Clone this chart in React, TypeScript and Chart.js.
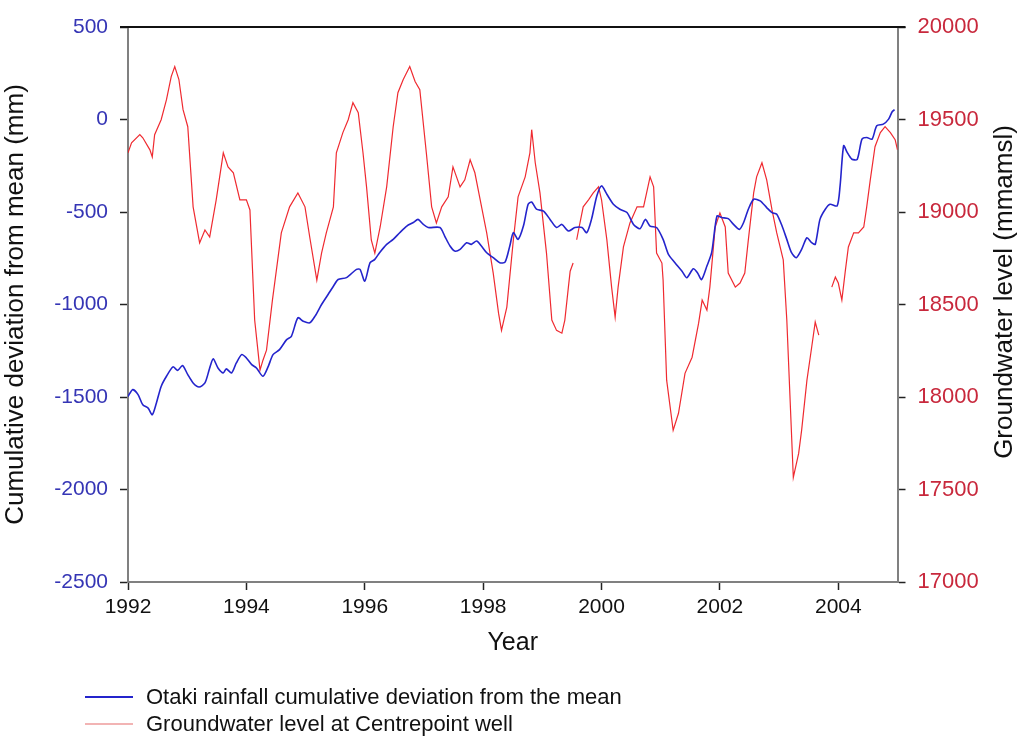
import React, { useEffect, useRef } from 'react';
import { Chart, registerables } from 'chart.js';

Chart.register(...registerables);

// ---- Data ----
const rainYears = [
  1992.00, 1992.08, 1992.17, 1992.25, 1992.34, 1992.41, 1992.48, 1992.56, 1992.65, 1992.76,
  1992.84, 1992.92, 1993.01, 1993.10, 1993.20, 1993.30, 1993.38, 1993.44, 1993.52, 1993.61,
  1993.66, 1993.75, 1993.83, 1993.92, 1994.00, 1994.09, 1994.17, 1994.28, 1994.37, 1994.45,
  1994.56, 1994.68, 1994.76, 1994.87, 1994.96, 1995.07, 1995.16, 1995.27, 1995.38, 1995.47,
  1995.55, 1995.69, 1995.86, 1995.92, 1996.00, 1996.09, 1996.17, 1996.25, 1996.37, 1996.48,
  1996.59, 1996.71, 1996.82, 1996.90, 1996.99, 1997.07, 1997.27, 1997.35, 1997.44, 1997.52,
  1997.61, 1997.72, 1997.80, 1997.89, 1997.97, 1998.06, 1998.17, 1998.28, 1998.37, 1998.45,
  1998.51, 1998.59, 1998.68, 1998.76, 1998.82, 1998.90, 1999.02, 1999.13, 1999.24, 1999.33,
  1999.44, 1999.55, 1999.67, 1999.75, 1999.83, 1999.92, 2000.00, 2000.09, 2000.20, 2000.31,
  2000.43, 2000.54, 2000.65, 2000.74, 2000.82, 2000.93, 2001.04, 2001.13, 2001.24, 2001.36,
  2001.44, 2001.55, 2001.62, 2001.69, 2001.78, 2001.86, 2001.95, 2002.03, 2002.14, 2002.23,
  2002.33, 2002.40, 2002.48, 2002.57, 2002.68, 2002.79, 2002.88, 2002.96, 2003.05, 2003.13,
  2003.21, 2003.29, 2003.38, 2003.47, 2003.55, 2003.61, 2003.69, 2003.78, 2003.86, 2003.98,
  2004.03, 2004.09, 2004.15, 2004.23, 2004.32, 2004.40, 2004.48, 2004.57, 2004.65, 2004.76,
  2004.85, 2004.91, 2004.95,
];

const rainDeviation = [
  -1497, -1460, -1487, -1542, -1560, -1596, -1532, -1443, -1388, -1337,
  -1356, -1330, -1379, -1424, -1446, -1424, -1343, -1294, -1343, -1370,
  -1348, -1370, -1316, -1271, -1289, -1325, -1343, -1388, -1334, -1271,
  -1244, -1190, -1172, -1072, -1090, -1099, -1063, -1000, -946, -901,
  -865, -855, -810, -810, -874, -774, -756, -720, -675, -648,
  -612, -576, -557, -540, -567, -584, -584, -630, -684, -711,
  -702, -666, -675, -657, -684, -720, -747, -774, -771, -684,
  -612, -648, -576, -458, -446, -485, -495, -540, -584, -567,
  -603, -584, -584, -612, -540, -413, -359, -404, -458, -485,
  -503, -567, -590, -540, -576, -584, -648, -729, -774, -820,
  -855, -807, -828, -865, -792, -720, -522, -530, -536, -567,
  -594, -557, -485, -431, -440, -476, -503, -512, -576, -648,
  -720, -747, -702, -639, -666, -675, -540, -485, -458, -467,
  -359, -142, -178, -215, -215, -106, -97, -106, -34, -25,
  2, 42, 53,
];

const gwYears = [
  1992.00, 1992.06, 1992.20, 1992.25, 1992.37, 1992.41, 1992.45, 1992.56, 1992.65, 1992.73,
  1992.79, 1992.86, 1992.93, 1993.01, 1993.10, 1993.21, 1993.30, 1993.38, 1993.49, 1993.61,
  1993.69, 1993.78, 1993.89, 1994.00, 1994.06, 1994.14, 1994.23, 1994.28, 1994.34, 1994.44,
  1994.59, 1994.73, 1994.87, 1994.99, 1995.07, 1995.19, 1995.27, 1995.35, 1995.47, 1995.52,
  1995.63, 1995.72, 1995.80, 1995.89, 1995.97, 1996.03, 1996.11, 1996.17, 1996.26, 1996.37,
  1996.48, 1996.56, 1996.65, 1996.76, 1996.85, 1996.93, 1997.04, 1997.13, 1997.21, 1997.30,
  1997.41, 1997.49, 1997.55, 1997.61, 1997.69, 1997.78, 1997.86, 1997.94, 1998.06, 1998.17,
  1998.26, 1998.31, 1998.40, 1998.51, 1998.59, 1998.71, 1998.79, 1998.82, 1998.88, 1998.96,
  1999.07, 1999.16, 1999.24, 1999.33, 1999.38, 1999.44, 1999.47, 1999.52, 1999.55, 1999.58,
  1999.61, 1999.69,
  1999.78, 1999.86, 1999.95, 2000.00, 2000.09, 2000.17, 2000.23, 2000.28, 2000.37, 2000.48,
  2000.60, 2000.71, 2000.82, 2000.88, 2000.93, 2001.02, 2001.04, 2001.10, 2001.21, 2001.30,
  2001.41, 2001.53, 2001.64, 2001.70, 2001.78, 2001.83, 2001.92, 2002.00, 2002.09, 2002.14,
  2002.26, 2002.34, 2002.42, 2002.48, 2002.57, 2002.62, 2002.71, 2002.79, 2002.88, 2002.96,
  2003.07, 2003.13, 2003.24, 2003.33, 2003.38, 2003.47, 2003.55, 2003.61, 2003.67, 2003.78,
  2003.89, 2003.95, 2004.00, 2004.06, 2004.12, 2004.17, 2004.26, 2004.34, 2004.43, 2004.48,
  2004.54, 2004.62, 2004.71, 2004.79, 2004.88, 2004.96, 2005.00,
];

const gwLevel: (number | null)[] = [
  19320, 19374, 19418, 19401, 19336, 19298, 19418, 19499, 19607, 19732,
  19786, 19716, 19553, 19461, 19028, 18833, 18903, 18865, 19066, 19320,
  19244, 19212, 19066, 19066, 19011, 18416, 18145, 18199, 18253, 18524,
  18887, 19028, 19103, 19028, 18865, 18632, 18778, 18887, 19028, 19320,
  19429, 19499, 19591, 19537, 19320, 19136, 18849, 18778, 18919, 19136,
  19461, 19645, 19716, 19786, 19705, 19661, 19320, 19028, 18941, 19028,
  19082, 19244, 19190, 19136, 19174, 19282, 19212, 19082, 18887, 18670,
  18453, 18360, 18486, 18849, 19082, 19190, 19320, 19445, 19266, 19103,
  18778, 18416, 18360, 18345, 18416, 18594, 18680, 18724, null, 18850,
  18900, 19028,
  19066, 19103, 19136, 19066, 18849, 18594, 18432, 18594, 18811, 18941,
  19028, 19028, 19190, 19136, 18778, 18724, 18632, 18091, 17820, 17912,
  18128, 18215, 18399, 18524, 18470, 18594, 18919, 18995, 18919, 18670,
  18594, 18616, 18670, 18849, 19103, 19190, 19266, 19174, 19011, 18887,
  18741, 18416, 17565, 17695, 17820, 18091, 18269, 18405, 18334, null,
  18594, 18648, 18616, 18524, 18686, 18811, 18887, 18887, 18919, 19028,
  19174, 19353, 19429, 19461, 19429, 19391, 19336,
];

const rainLabel = 'Otaki rainfall cumulative deviation from the mean';
const gwLabel = 'Groundwater level at Centrepoint well';
const xTitle = 'Year';
const leftTitle = 'Cumulative deviation from mean (mm)';
const rightTitle = 'Groundwater level (mmamsl)';

const xRange = [1992, 2005];
const leftRange = [-2500, 500];
const rightRange = [17000, 20000];

const FONT = '"Liberation Sans", Arial, Helvetica, sans-serif';
const BLUE = '#2424cc';
const RED = 'rgba(238,24,30,0.92)';
const RED_LEGEND = '#f2b4b4';

const decorations = {
  id: 'decorations',
  afterDraw(chart: any) {
    const { ctx, chartArea } = chart;
    ctx.save();
    // top frame line
    ctx.strokeStyle = '#111111';
    ctx.lineWidth = 2;
    ctx.beginPath();
    ctx.moveTo(chartArea.left - 8, chartArea.top);
    ctx.lineTo(chartArea.right + 8, chartArea.top);
    ctx.stroke();

    // right axis title (reads bottom-to-top)
    ctx.save();
    ctx.translate(1005, 292);
    ctx.rotate(-Math.PI / 2);
    ctx.font = `26px ${FONT}`;
    ctx.fillStyle = '#111111';
    ctx.textAlign = 'center';
    ctx.textBaseline = 'middle';
    ctx.fillText(rightTitle, 0, 0);
    ctx.restore();

    // legend (stacked, left aligned)
    const rows = [697, 724];
    chart.data.datasets.forEach((ds: any, i: number) => {
      const y = rows[i];
      ctx.strokeStyle = ds.legendColor || ds.borderColor;
      ctx.lineWidth = 2;
      ctx.beginPath();
      ctx.moveTo(85, y);
      ctx.lineTo(133, y);
      ctx.stroke();
      ctx.font = `22px ${FONT}`;
      ctx.fillStyle = '#111111';
      ctx.textAlign = 'left';
      ctx.textBaseline = 'middle';
      ctx.fillText(ds.label, 146, y + 1);
    });
    ctx.restore();
  },
};

export default function App() {
  const ref = useRef<HTMLCanvasElement | null>(null);

  useEffect(() => {
    if (!ref.current) return;
    const rainData = rainYears.map((x, i) => ({ x, y: rainDeviation[i] }));
    const gwData = gwYears.map((x, i) => ({ x, y: gwLevel[i] }));

    const chart = new Chart(ref.current, {
      type: 'line',
      data: {
        datasets: [
          {
            label: rainLabel,
            data: rainData,
            borderColor: BLUE,
            borderWidth: 1.6,
            pointRadius: 0,
            tension: 0.25,
            yAxisID: 'y',
            legendColor: BLUE,
          } as any,
          {
            label: gwLabel,
            data: gwData,
            borderColor: RED,
            borderWidth: 1.2,
            pointRadius: 0,
            tension: 0,
            spanGaps: false,
            yAxisID: 'y1',
            legendColor: RED_LEGEND,
          } as any,
        ],
      },
      options: {
        responsive: false,
        animation: false,
        layout: { padding: { top: 27, bottom: 78, left: 0, right: 0 } },
        plugins: {
          legend: { display: false },
          tooltip: { enabled: false },
        },
        scales: {
          x: {
            type: 'linear',
            position: 'bottom',
            min: xRange[0],
            max: xRange[1],
            afterFit: (s: any) => { s.height = 76; },
            ticks: {
              stepSize: 2,
              includeBounds: false,
              padding: 5,
              color: '#111111',
              font: { family: FONT, size: 21 },
              maxRotation: 0,
              callback: (v: any) => String(v),
            },
            grid: { drawOnChartArea: false, drawTicks: true, tickLength: 8, tickColor: '#222222', tickWidth: 1.5 },
            border: { display: true, color: '#808080', width: 2 },
            title: { display: true, text: xTitle, color: '#111111', font: { family: FONT, size: 25 }, padding: { top: 0, bottom: 0 } },
          },
          y: {
            type: 'linear',
            position: 'left',
            min: leftRange[0],
            max: leftRange[1],
            afterFit: (s: any) => { s.width = 128; },
            ticks: {
              stepSize: 500,
              padding: 12,
              color: '#3535b5',
              font: { family: FONT, size: 21 },
              callback: (v: any) => String(v),
            },
            grid: { drawOnChartArea: false, drawTicks: true, tickLength: 8, tickColor: '#222222', tickWidth: 1.5 },
            border: { display: true, color: '#808080', width: 2 },
            title: { display: true, text: leftTitle, color: '#111111', font: { family: FONT, size: 26 }, padding: { top: 0, bottom: 0 } },
          },
          y1: {
            type: 'linear',
            position: 'right',
            min: rightRange[0],
            max: rightRange[1],
            afterFit: (s: any) => { s.width = 125.5; },
            ticks: {
              stepSize: 500,
              padding: 12,
              color: '#c8283c',
              font: { family: FONT, size: 22 },
              callback: (v: any) => String(v),
            },
            grid: { drawOnChartArea: false, drawTicks: true, tickLength: 8, tickColor: '#222222', tickWidth: 1.5 },
            border: { display: true, color: '#808080', width: 2 },
          },
        },
      } as any,
      plugins: [decorations],
    });

    return () => chart.destroy();
  }, []);

  return (
    <div style={{ position: 'absolute', left: 0, top: 0, width: 1023, height: 736, background: '#ffffff' }}>
      <canvas ref={ref} width={1023} height={736} style={{ display: 'block' }} />
    </div>
  );
}
